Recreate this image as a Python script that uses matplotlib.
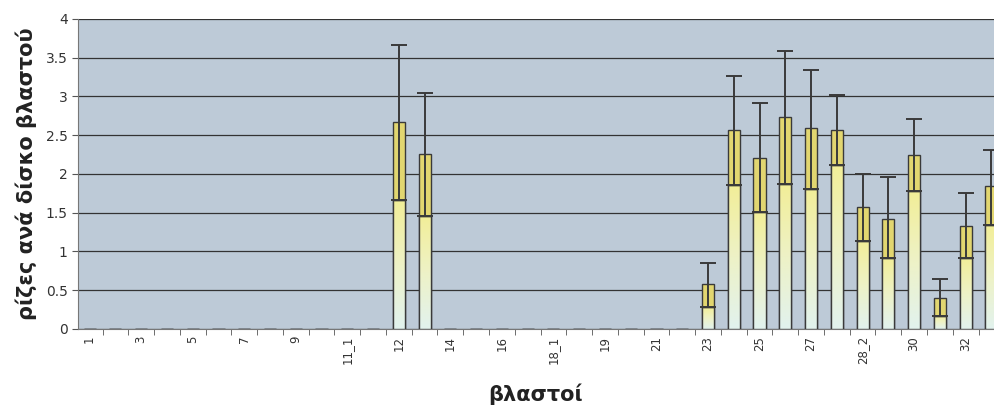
import numpy as np
import matplotlib
matplotlib.use("Agg")
import matplotlib.pyplot as plt
from matplotlib.colors import LinearSegmentedColormap

plt.rcParams['font.family'] = ['DejaVu Sans']

categories = ['1', '2', '3', '4', '5', '6', '7', '8', '9', '10', '11_1', '11_2',
              '12', '13', '14', '15', '16', '17', '18_1', '18_2', '19', '20', '21', '22',
              '23', '24', '25', '26', '27', '28_1', '28_2', '29', '30', '31', '32', '33']
lower = [0] * 12 + [1.66, 1.46] + [0] * 10 + \
        [0.28, 1.86, 1.51, 1.87, 1.81, 2.12, 1.14, 0.92, 1.78, 0.17, 0.92, 1.34]
total = [0] * 12 + [2.67, 2.26] + [0] * 10 + \
        [0.58, 2.57, 2.21, 2.73, 2.59, 2.57, 1.58, 1.42, 2.24, 0.40, 1.33, 1.84]
err_top = [0] * 12 + [3.66, 3.05] + [0] * 10 + \
          [0.85, 3.26, 2.91, 3.59, 3.34, 3.02, 2.00, 1.96, 2.71, 0.65, 1.75, 2.31]
yticks = [0, 0.5, 1, 1.5, 2, 2.5, 3, 3.5, 4]

lower = np.array(lower)
total = np.array(total)
err_top = np.array(err_top)
upper = total - lower
x = np.arange(len(categories))

fig = plt.figure(figsize=(9.94, 4.12), dpi=100)
ax = fig.add_axes([0.0785, 0.2015, 0.9215, 0.7525])
ax.set_facecolor('#bdcad7')

width = 0.47
edge = '#3a3a3a'
grad = LinearSegmentedColormap.from_list('g', ['#e2f2ee', '#eef2c6', '#f2ee98'])
gimg = np.linspace(0, 1, 100).reshape(-1, 1)

bars_low = ax.bar(x, lower, width=width, color='#eef0c0', edgecolor=edge,
                  linewidth=1.0, zorder=3)
for b, v in zip(bars_low, lower):
    if v <= 0:
        continue
    im = ax.imshow(gimg, cmap=grad, origin='lower', aspect='auto',
                   extent=[b.get_x(), b.get_x() + b.get_width(), 0, v], zorder=3.1)
    im.set_clip_path(b)
    ax.add_patch(plt.Rectangle((b.get_x(), 0), b.get_width(), v, fill=False,
                               edgecolor=edge, linewidth=1.0, zorder=3.2))

ax.bar(x, upper, bottom=lower, width=width, color='#e2d670', edgecolor=edge,
       linewidth=1.0, zorder=3.3)

mask = total > 0
ax.errorbar(x[mask], lower[mask], yerr=[np.zeros(mask.sum()), (err_top - lower)[mask]],
            fmt='none', ecolor=edge, elinewidth=1.4, capsize=6, capthick=1.4, zorder=4)

ax.set_yticks(yticks)
ax.set_yticklabels(['0', '0.5', '1', '1.5', '2', '2.5', '3', '3.5', '4'],
                   fontsize=10, color='#333333')
ax.yaxis.grid(True, color='#333333', linewidth=0.9, zorder=1)
ax.set_axisbelow(True)

ax.set_xticks(x[::2])
ax.set_xticklabels(categories[::2], rotation=90, fontsize=8.5, color='#333333')
ax.set_xticks(np.arange(-0.5, 36, 1), minor=True)
ax.tick_params(axis='x', which='major', length=0, pad=5)
ax.tick_params(axis='x', which='minor', length=4, color='#555555')
ax.tick_params(axis='y', length=4, color='#555555')

ax.set_ylim(0, 4)
ax.set_xlim(-0.45, 35.1)

for s in ['top', 'right']:
    ax.spines[s].set_visible(False)
ax.spines['left'].set_color('#777777')
ax.spines['bottom'].set_color('#777777')

ax.set_ylabel('ρίζες ανά δίσκο βλαστού', fontsize=15, fontweight='bold',
              color='#222222', labelpad=6)
ax.set_xlabel('βλαστοί', fontsize=15, fontweight='bold', color='#222222', labelpad=14)

fig.savefig('out.png', dpi=100)
